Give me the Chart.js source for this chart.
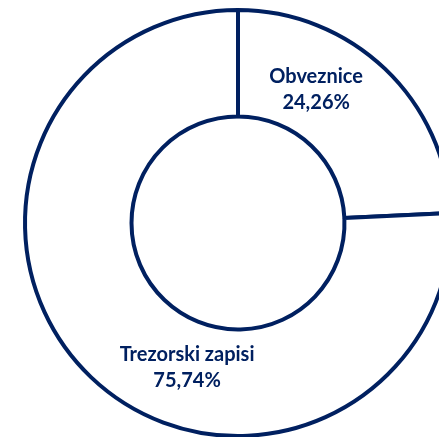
<!DOCTYPE html>
<html>
<head>
<meta charset="utf-8">
<script src="https://cdn.jsdelivr.net/npm/chart.js@4/dist/chart.umd.min.js"></script>
<style>
html,body{margin:0;padding:0;background:#fff;overflow:hidden;width:439px;height:437px;}
#wrap{position:absolute;left:0;top:0;width:476px;height:446px;}
</style>
</head>
<body>
<div id="wrap"><canvas id="c" width="476" height="446"></canvas></div>
<script>
const categories = ["Obveznice", "Trezorski zapisi"];
const values = [24.26, 75.74];
const valueLabels = ["24,26%", "75,74%"];
// label placement: clockwise angle from top (deg) and fraction of outer radius
const labelAngles = [30.4, 199.4];
const labelRadii = [0.725, 0.72];

const NAVY = "#002060";

const labelPlugin = {
  id: "sliceLabels",
  afterDatasetsDraw(chart) {
    const ctx = chart.ctx;
    const meta = chart.getDatasetMeta(0);
    ctx.save();
    ctx.fillStyle = NAVY;
    ctx.textAlign = "center";
    ctx.textBaseline = "middle";
    ctx.font = "bold 20px Lato, 'Open Sans', sans-serif";
    meta.data.forEach((arc, i) => {
      const R = arc.outerRadius;
      const a = (labelAngles[i] - 90) * Math.PI / 180;
      const x = arc.x + Math.cos(a) * R * labelRadii[i];
      const y = arc.y + Math.sin(a) * R * labelRadii[i];
      ctx.fillText(categories[i], x, y - 13);
      ctx.fillText(valueLabels[i], x, y + 13);
    });
    ctx.restore();
  }
};

new Chart(document.getElementById("c"), {
  type: "doughnut",
  data: {
    labels: categories,
    datasets: [{
      data: values,
      backgroundColor: "#ffffff",
      borderColor: NAVY,
      borderWidth: 4
    }]
  },
  options: {
    responsive: false,
    animation: false,
    radius: 213,
    cutout: "50%",
    layout: { padding: 0 },
    plugins: { legend: { display: false }, tooltip: { enabled: false } }
  },
  plugins: [labelPlugin]
});
</script>
</body>
</html>
